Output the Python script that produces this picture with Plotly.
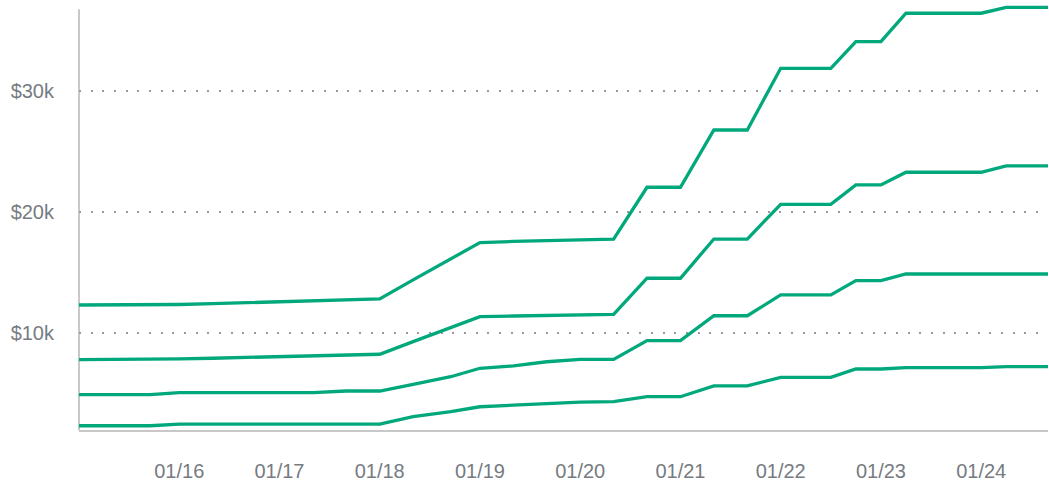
import plotly.graph_objects as go

# Timestamps where the lines change slope (shared by all series)
times = [
    "2024-01-15 00:00", "2024-01-15 17:00", "2024-01-16 00:00", "2024-01-16 08:00",
    "2024-01-17 08:00", "2024-01-17 16:00", "2024-01-18 00:00", "2024-01-18 08:00",
    "2024-01-18 17:00", "2024-01-19 00:00", "2024-01-19 08:00", "2024-01-19 16:00",
    "2024-01-20 00:00", "2024-01-20 08:00", "2024-01-20 16:00", "2024-01-21 00:00",
    "2024-01-21 08:00", "2024-01-21 16:00", "2024-01-22 00:00", "2024-01-22 12:00",
    "2024-01-22 18:00", "2024-01-23 00:00", "2024-01-23 06:00", "2024-01-24 00:00",
    "2024-01-24 06:00", "2024-01-24 16:00",
]

series_a = [12290, 12290, 12330, 12400, 12630, 12700, 12790, 14360, 16090, 17450,
            17540, 17620, 17700, 17740, 22020, 22020, 26750, 26750, 31850, 31850,
            34050, 34050, 36400, 36400, 36890, 36890]
series_b = [7770, 7770, 7830, 7890, 8100, 8200, 8220, 9260, 10410, 11320,
            11380, 11430, 11480, 11520, 14500, 14500, 17740, 17740, 20610, 20610,
            22210, 22210, 23260, 23260, 23780, 23780]
series_c = [4880, 4880, 5040, 5040, 5040, 5180, 5180, 5720, 6360, 7060,
            7250, 7600, 7800, 7800, 9340, 9340, 11400, 11400, 13120, 13120,
            14300, 14300, 14850, 14850, 14850, 14850]
series_d = [2310, 2310, 2450, 2450, 2450, 2450, 2450, 3060, 3470, 3880,
            4000, 4170, 4270, 4300, 4710, 4710, 5600, 5600, 6310, 6310,
            7000, 7000, 7110, 7110, 7190, 7190]

x_tickvals = ["2024-01-16", "2024-01-17", "2024-01-18", "2024-01-19", "2024-01-20",
              "2024-01-21", "2024-01-22", "2024-01-23", "2024-01-24"]
x_ticktext = ["01/16", "01/17", "01/18", "01/19", "01/20", "01/21", "01/22", "01/23", "01/24"]
y_tickvals = [10000, 20000, 30000]
y_ticktext = ["$10k", "$20k", "$30k"]

x_range = ["2024-01-15 00:00", "2024-01-24 16:00"]
y_range = [1959, 37080]
y_axis_top = 36730

LINE_COLOR = "#00a87c"
TEXT_COLOR = "#767b82"
AXIS_COLOR = "#c8c8c8"

fig = go.Figure()
for s in [series_a, series_b, series_c, series_d]:
    fig.add_trace(go.Scatter(
        x=times, y=s, mode="lines",
        line=dict(color=LINE_COLOR, width=3.3),
        hoverinfo="skip", showlegend=False,
    ))

# y axis line (stops a little below the top of the plot area)
fig.add_shape(type="line", xref="paper", yref="y", x0=0, x1=0,
              y0=y_range[0], y1=y_axis_top,
              line=dict(color=AXIS_COLOR, width=2), layer="below")

fig.update_layout(
    width=1049, height=482,
    margin=dict(l=79, r=1, t=5, b=52),
    paper_bgcolor="white", plot_bgcolor="white",
    font=dict(family="Liberation Sans, Arial, sans-serif", size=20, color=TEXT_COLOR),
    xaxis=dict(
        type="date", range=x_range, automargin=False,
        tickvals=x_tickvals, ticktext=x_ticktext,
        showgrid=False, zeroline=False,
        showline=True, linecolor=AXIS_COLOR, linewidth=2,
        ticks="", ticklabelstandoff=22,
        tickfont=dict(size=20, color=TEXT_COLOR),
    ),
    yaxis=dict(
        range=y_range, automargin=False,
        tickvals=y_tickvals, ticktext=y_ticktext,
        showgrid=True, gridcolor="#9a9a9a", gridwidth=2, griddash="2px,9.67px",
        zeroline=False, showline=False,
        ticks="", ticklabelstandoff=24,
        tickfont=dict(size=20, color=TEXT_COLOR),
    ),
)

fig.write_html(
    "out.html",
    config={"displayModeBar": False, "staticPlot": True},
    post_script="document.body.style.margin='0';document.body.style.padding='0';document.body.style.overflow='hidden';",
)
